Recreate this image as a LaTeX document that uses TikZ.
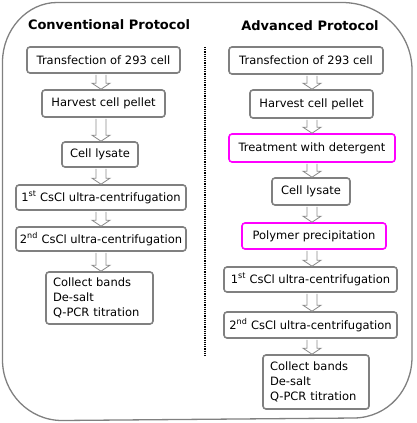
\documentclass[tikz,border=0pt]{standalone}
\usepackage{fontspec}
\setmainfont{DejaVu Sans}
\usetikzlibrary{calc}
\definecolor{boxgray}{RGB}{128,128,128}
\definecolor{arrowgray}{RGB}{140,140,140}
\definecolor{mag}{RGB}{255,0,255}
\tikzset{
  stepbox/.style={draw=boxgray, line width=1.6pt, rounded corners=3pt, inner sep=0pt,
    font=\fontsize{11.5}{14}\selectfont, text=black},
  hibox/.style={stepbox, draw=mag},
  titletext/.style={font=\fontsize{13}{16}\selectfont\bfseries},
  blockarrow/.style={draw=arrowgray, fill=white, line width=0.8pt,
    to path={let \p1=(\tikztostart), \p2=(\tikztotarget) in
      (\x1-5pt,\y1) -- (\x1-5pt,\y2+6pt) -- (\x1-9pt,\y2+6pt) -- (\x1,\y2)
      -- (\x1+9pt,\y2+6pt) -- (\x1+5pt,\y2+6pt) -- (\x1+5pt,\y1)}}
}
\begin{document}
\begin{tikzpicture}[x=1pt,y=-1pt]
\useasboundingbox (0,0) rectangle (416,423);
% outer frame
\draw[draw=boxgray, line width=1.3pt]
  (2.5,62) .. controls (2.5,30) and (27,2.5) .. (57,2.5)
  -- (342,2.5) .. controls (381,2.5) and (412,33) .. (412,70)
  -- (412,357) .. controls (412,390) and (388,417) .. (355,418)
  -- (62,420.5) .. controls (29,420.5) and (2.5,393) .. (2.5,360) -- cycle;
% divider
\draw[line width=1.8pt, dash pattern=on 1.2pt off 1pt] (205,47) -- (205,356);
% titles
\node[titletext] (tl) at (109,25) {Conventional Protocol};
\node[titletext] (tr) at (310,26) {Advanced Protocol};
% column axes
\coordinate (lx) at (101,0);
\coordinate (rx) at (312,0);
% left column
\node[stepbox, minimum width=153pt, minimum height=26pt] (L1) at (103.5,60) {Transfection of 293 cell};
\node[stepbox, minimum width=123pt, minimum height=27pt] (L2) at (103.5,103.5) {Harvest cell pellet};
\node[stepbox, minimum width=76pt, minimum height=25pt] (L3) at (100,154.5) {Cell lysate};
\node[stepbox, minimum width=170pt, minimum height=25pt] (L4) at (101,197.5) {1\textsuperscript{st} CsCl ultra-centrifugation};
\node[stepbox, minimum width=170pt, minimum height=24pt] (L5) at (101,239) {2\textsuperscript{nd} CsCl ultra-centrifugation};
\node[stepbox, minimum width=107pt, minimum height=52pt, align=left, text width=93pt,
  font=\fontsize{11.5}{15}\selectfont] (L6) at (99.5,298) {Collect bands\\De-salt\\Q-PCR titration};
% right column
\node[stepbox, minimum width=154pt, minimum height=27pt] (R1) at (306,60.5) {Transfection of 293 cell};
\node[stepbox, minimum width=123pt, minimum height=28pt] (R2) at (311.5,104) {Harvest cell pellet};
\node[hibox, minimum width=166pt, minimum height=28pt] (R3) at (312,148) {Treatment with detergent};
\node[stepbox, minimum width=78pt, minimum height=27pt] (R4) at (311,191.5) {Cell lysate};
\node[hibox, minimum width=144pt, minimum height=26pt] (R5) at (314,236) {Polymer precipitation};
\node[stepbox, minimum width=173pt, minimum height=25pt] (R6) at (310.5,279.5) {1\textsuperscript{st} CsCl ultra-centrifugation};
\node[stepbox, minimum width=173pt, minimum height=26pt] (R7) at (310.5,325) {2\textsuperscript{nd} CsCl ultra-centrifugation};
\node[stepbox, minimum width=106pt, minimum height=54pt, align=left, text width=92pt,
  font=\fontsize{11.5}{15}\selectfont] (R8) at (316,382) {Collect bands\\De-salt\\Q-PCR titration};
% arrows
\foreach \a/\b in {L1/L2,L2/L3,L3/L4,L4/L5,L5/L6}
  \draw[blockarrow] ($(\a.south -| lx)+(0,1)$) to (\b.north -| lx);
\foreach \a/\b in {R1/R2,R2/R3,R3/R4,R4/R5,R5/R6,R6/R7,R7/R8}
  \draw[blockarrow] ($(\a.south -| rx)+(0,1)$) to (\b.north -| rx);
\end{tikzpicture}
\end{document}
